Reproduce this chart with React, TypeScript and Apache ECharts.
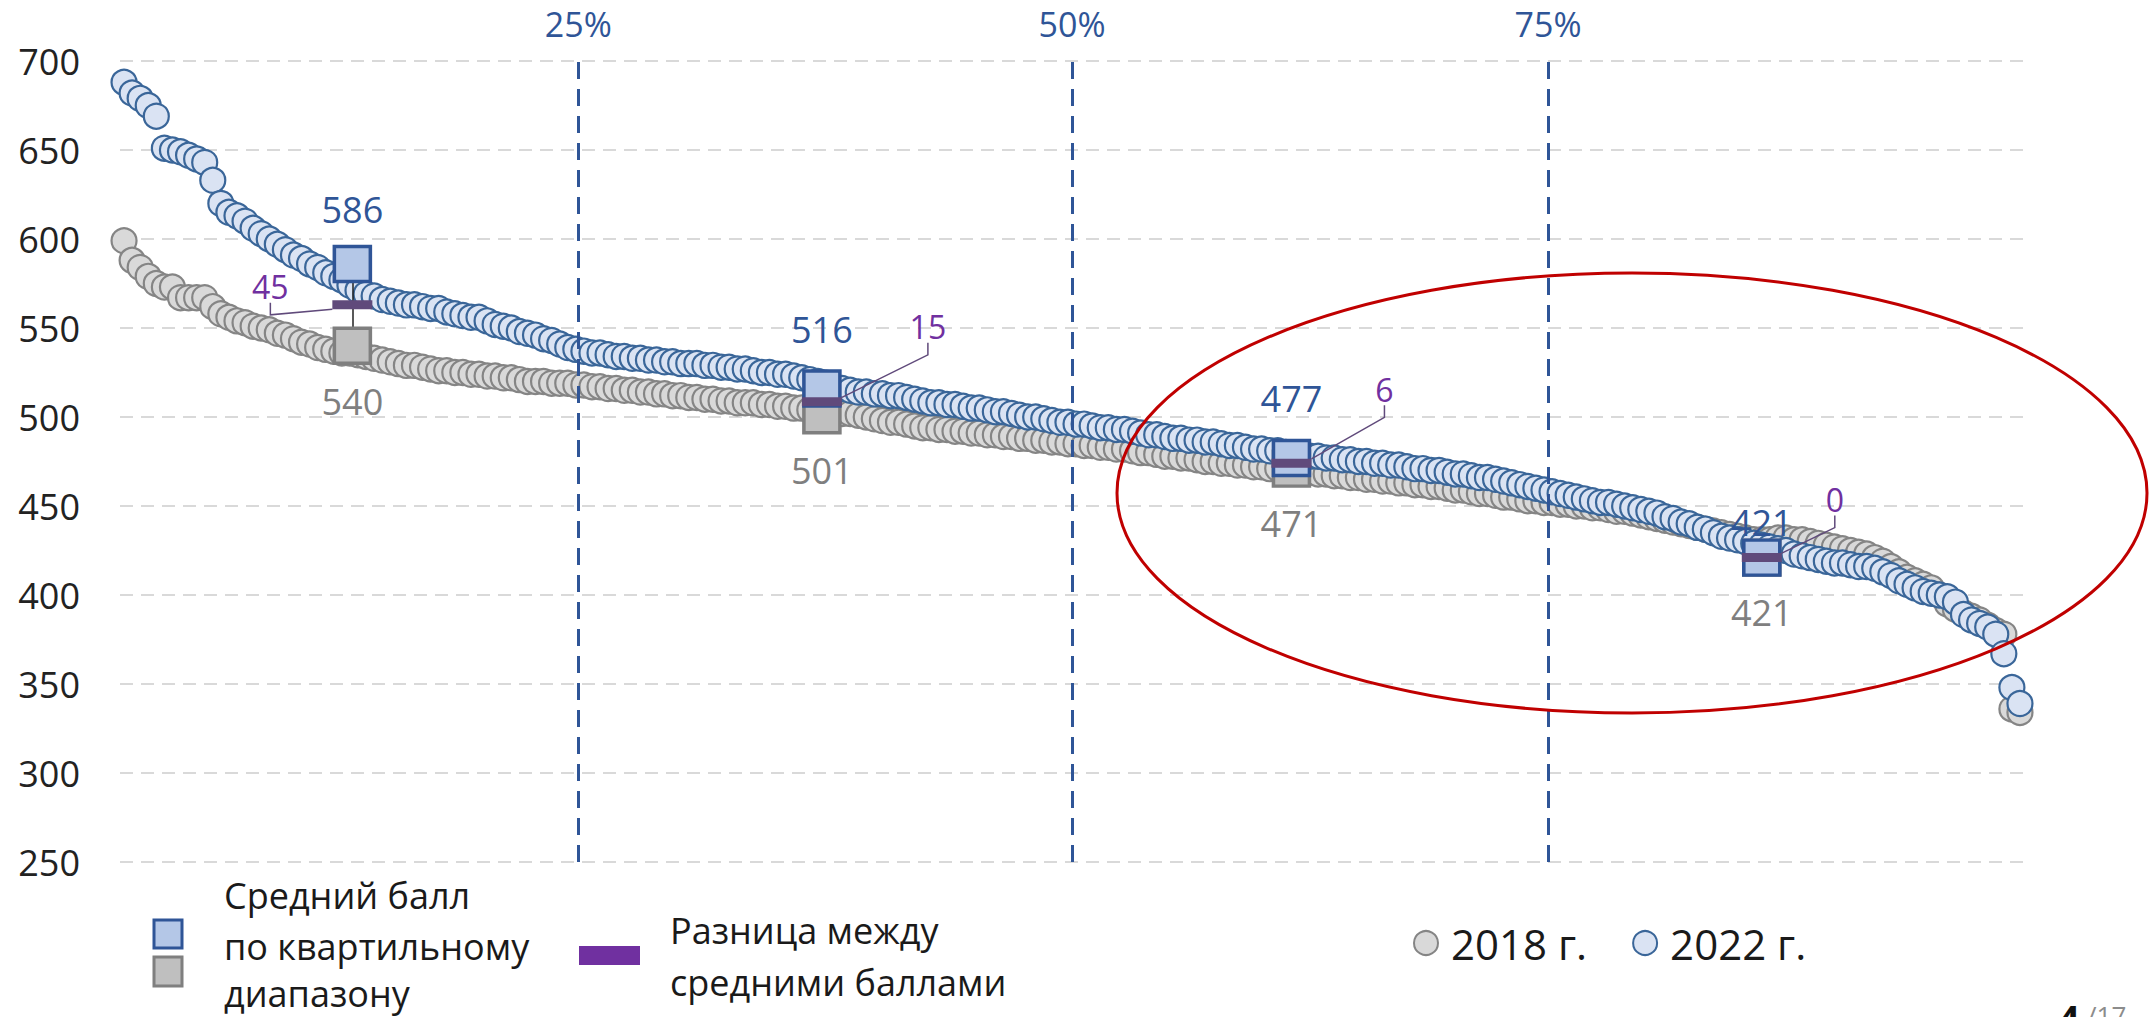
import React, { useEffect, useRef } from 'react';
import * as echarts from 'echarts';

const FONT = "'Open Sans', 'Noto Sans', 'Liberation Sans', sans-serif";

// Average score of each unit, sorted descending
const scores2022 = [
  688, 682, 679, 675, 669, 651, 650, 649, 647, 645,
  643, 633, 620, 615, 613, 610, 606, 603, 600, 597,
  594, 591, 589, 586, 584, 581, 579, 577, 574, 571,
  569, 568, 566, 565, 564, 563, 563, 562, 561, 561,
  559, 558, 557, 556, 556, 554, 552, 551, 550, 548,
  547, 546, 544, 543, 541, 539, 538, 537, 536, 536,
  535, 534, 534, 533, 533, 532, 532, 531, 531, 530,
  530, 530, 529, 529, 528, 528, 527, 527, 526, 525,
  525, 524, 524, 523, 522, 521, 520, 519, 517, 516,
  515, 514, 514, 513, 513, 512, 512, 511, 510, 509,
  508, 508, 507, 507, 506, 505, 505, 504, 503, 503,
  502, 501, 500, 500, 499, 498, 497, 497, 496, 496,
  495, 494, 494, 493, 493, 492, 491, 490, 490, 489,
  488, 488, 487, 487, 486, 486, 485, 484, 484, 483,
  482, 482, 481, 481, 480, 479, 479, 478, 478, 477,
  477, 476, 476, 475, 475, 474, 474, 473, 473, 472,
  471, 471, 470, 470, 469, 468, 468, 467, 466, 466,
  465, 464, 463, 462, 461, 460, 459, 458, 457, 456,
  455, 454, 453, 452, 452, 451, 450, 449, 448, 447,
  446, 444, 443, 441, 440, 438, 437, 435, 433, 432,
  431, 430, 429, 428, 427, 426, 425, 423, 422, 421,
  420, 419, 418, 418, 417, 416, 416, 415, 413, 411,
  408, 406, 404, 402, 401, 400, 399, 396, 389, 386,
  384, 382, 378, 367, 348, 339,
];

const scores2018 = [
  599, 588, 584, 579, 575, 573, 573, 567, 567, 567,
  567, 562, 558, 556, 554, 553, 551, 550, 549, 547,
  546, 544, 542, 541, 539, 538, 537, 536, 536, 535,
  534, 533, 532, 531, 530, 529, 529, 528, 527, 526,
  526, 525, 525, 524, 524, 523, 523, 522, 522, 521,
  520, 520, 520, 519, 519, 519, 518, 518, 517, 517,
  516, 516, 515, 515, 514, 514, 513, 513, 512, 512,
  511, 511, 510, 510, 509, 509, 508, 508, 508, 507,
  507, 506, 506, 505, 505, 504, 504, 503, 503, 502,
  502, 501, 500, 499, 498, 497, 497, 496, 495, 494,
  494, 493, 493, 492, 492, 491, 491, 490, 490, 489,
  489, 488, 488, 487, 487, 486, 486, 485, 485, 484,
  484, 483, 483, 482, 482, 481, 480, 480, 479, 478,
  478, 477, 477, 476, 475, 475, 474, 474, 473, 473,
  472, 472, 471, 471, 470, 470, 469, 469, 468, 468,
  467, 467, 466, 466, 465, 465, 464, 464, 463, 463,
  462, 462, 461, 461, 460, 459, 459, 458, 457, 457,
  456, 455, 455, 454, 453, 453, 452, 452, 451, 451,
  450, 450, 449, 449, 448, 447, 447, 446, 445, 444,
  443, 442, 441, 440, 439, 438, 437, 436, 435, 434,
  433, 432, 431, 431, 431, 432, 432, 431, 431, 430,
  429, 428, 427, 426, 425, 424, 423, 421, 419, 416,
  413, 410, 408, 406, 404, 400, 395, 392, 390, 388,
  386, 383, 380, 378, 336, 334,
];

// Quartile-range averages (centre position of each quartile, in rank units)
const quartileCentre = [28.3, 86.5, 144.7, 203];
const quartileMean2022 = [586, 516, 477, 421];
const quartileMean2018 = [540, 501, 471, 421];
const quartileDiff = [45, 15, 6, 0];

// Percentile boundary lines (rank units)
const percentileRank = [56.3, 117.5, 176.5];
const percentileLabels = ['25%', '50%', '75%'];

const seriesNames = ['2018 г.', '2022 г.'];
const yMin = 250;
const yMax = 700;
const yStep = 50;

// label offsets (pixels)
const diffLabelShift = [
  [-82, -18],
  [106, -75],
  [93, -74],
  [73, -58],
];
const blueLabelNudge = [0, -5, -5, 19];

export default function App() {
  const ref = useRef<HTMLDivElement>(null);

  useEffect(() => {
    document.body.style.margin = '0';
    if (!ref.current) return;
    const chart = echarts.init(ref.current, undefined, { renderer: 'svg' });

    const option: any = {
      animation: false,
      backgroundColor: '#ffffff',
      textStyle: { fontFamily: FONT },
      grid: { left: 120, right: 130, top: 61, bottom: 155 },
      xAxis: {
        type: 'value',
        min: -0.5,
        max: scores2022.length - 0.5,
        show: false,
      },
      yAxis: {
        type: 'value',
        min: yMin,
        max: yMax,
        interval: yStep,
        axisLine: { show: false },
        axisTick: { show: false },
        axisLabel: { fontSize: 36, color: '#222222', margin: 40, fontFamily: FONT },
        splitLine: { lineStyle: { color: '#D9D9D9', width: 2, type: [13, 8] } },
      },
      legend: {
        data: seriesNames,
        left: 1408,
        top: 917,
        icon: 'circle',
        itemWidth: 24,
        itemHeight: 24,
        itemGap: 45,
        selectedMode: false,
        textStyle: { fontSize: 42, color: '#1a1a1a', fontFamily: FONT, padding: [0, 0, 0, 8] },
      },
      series: [
        {
          name: seriesNames[0],
          type: 'scatter',
          data: scores2018.map((v, i) => [i, v]),
          symbol: 'circle',
          symbolSize: 25,
          itemStyle: { color: '#D9D9D9', borderColor: '#858585', borderWidth: 2.2, opacity: 1 },
          z: 2,
        },
        {
          name: seriesNames[1],
          type: 'scatter',
          data: scores2022.map((v, i) => [i, v]),
          symbol: 'circle',
          symbolSize: 25,
          itemStyle: { color: '#DAE3F3', borderColor: '#3A6699', borderWidth: 2.2, opacity: 1 },
          z: 3,
        },
        {
          name: 'connector',
          type: 'line',
          data: [],
          z: 4,
          silent: true,
          markLine: {
            symbol: 'none',
            silent: true,
            lineStyle: { color: '#222', width: 1.5, type: 'solid' },
            label: { show: false },
            data: quartileCentre.map((x, i) => [
              { coord: [x, quartileMean2022[i]] },
              { coord: [x, quartileMean2018[i]] },
            ]),
          },
        },
        {
          name: 'q2018',
          type: 'scatter',
          data: quartileCentre.map((x, i) => [x, quartileMean2018[i]]),
          symbol: 'rect',
          symbolSize: [36, 35],
          itemStyle: { color: '#BFBFBF', borderColor: '#7F7F7F', borderWidth: 3.5, opacity: 1 },
          label: {
            show: true,
            position: 'bottom',
            distance: 18,
            formatter: (p: any) => String(p.value[1]),
            color: '#7F7F7F',
            fontSize: 36,
            fontFamily: FONT,
          },
          z: 5,
        },
        {
          name: 'q2022',
          type: 'scatter',
          data: quartileCentre.map((x, i) => [x, quartileMean2022[i]]),
          symbol: 'rect',
          symbolSize: [36, 35],
          itemStyle: { color: '#B4C7E7', borderColor: '#2F5597', borderWidth: 3.5, opacity: 1 },
          label: {
            show: true,
            position: 'top',
            distance: 17,
            formatter: (p: any) => String(p.value[1]),
            color: '#2F5597',
            fontSize: 36,
            fontFamily: FONT,
          },
          labelLayout: (params: any) => ({ dy: blueLabelNudge[params.dataIndex] }),
          z: 6,
        },
        {
          name: 'diff',
          type: 'scatter',
          data: quartileCentre.map((x, i) => [x, (quartileMean2022[i] + quartileMean2018[i]) / 2]),
          symbol: 'rect',
          symbolSize: [40, 9],
          itemStyle: { color: '#604A7B', opacity: 1 },
          label: {
            show: true,
            position: 'inside',
            formatter: (p: any) => String(quartileDiff[p.dataIndex]),
            color: '#7030A0',
            fontSize: 32,
            fontFamily: FONT,
          },
          labelLayout: (params: any) => ({
            dx: diffLabelShift[params.dataIndex][0],
            dy: diffLabelShift[params.dataIndex][1],
          }),
          labelLine: {
            show: true,
            length2: 12,
            lineStyle: { color: '#604A7B', width: 1.5 },
          },
          z: 7,
        },
        {
          name: 'percentiles',
          type: 'line',
          data: [],
          z: 8,
          silent: true,
          markLine: {
            symbol: 'none',
            silent: true,
            lineStyle: { color: '#2F5597', width: 3, type: [17, 10] },
            label: {
              show: true,
              position: 'end',
              formatter: '{b}',
              color: '#2F5597',
              fontSize: 34,
              fontFamily: FONT,
              distance: 20,
            },
            data: percentileRank.map((x, i) => ({ xAxis: x, name: percentileLabels[i] })),
          },
        },
      ],
      graphic: [
        {
          type: 'ellipse',
          silent: true,
          z: 100,
          shape: { cx: 1632, cy: 493, rx: 515, ry: 220 },
          style: { fill: 'none', stroke: '#C00000', lineWidth: 3 },
        },
        {
          type: 'rect',
          silent: true,
          shape: { x: 154, y: 920, width: 28, height: 28 },
          style: { fill: '#B4C7E7', stroke: '#2F5597', lineWidth: 3 },
        },
        {
          type: 'rect',
          silent: true,
          shape: { x: 154, y: 957, width: 28, height: 29 },
          style: { fill: '#BFBFBF', stroke: '#7F7F7F', lineWidth: 3 },
        },
        {
          type: 'rect',
          silent: true,
          shape: { x: 579, y: 946, width: 61, height: 19 },
          style: { fill: '#7030A0' },
        },
        {
          type: 'text',
          silent: true,
          x: 224,
          y: 895,
          style: { text: 'Средний балл', fontSize: 36, fontFamily: FONT, fill: '#1a1a1a', verticalAlign: 'middle' },
        },
        {
          type: 'text',
          silent: true,
          x: 224,
          y: 946,
          style: { text: 'по квартильному', fontSize: 36, fontFamily: FONT, fill: '#1a1a1a', verticalAlign: 'middle' },
        },
        {
          type: 'text',
          silent: true,
          x: 224,
          y: 993,
          style: { text: 'диапазону', fontSize: 36, fontFamily: FONT, fill: '#1a1a1a', verticalAlign: 'middle' },
        },
        {
          type: 'text',
          silent: true,
          x: 670,
          y: 930,
          style: { text: 'Разница между', fontSize: 36, fontFamily: FONT, fill: '#1a1a1a', verticalAlign: 'middle' },
        },
        {
          type: 'text',
          silent: true,
          x: 670,
          y: 982,
          style: { text: 'средними баллами', fontSize: 36, fontFamily: FONT, fill: '#1a1a1a', verticalAlign: 'middle' },
        },
        {
          type: 'text',
          silent: true,
          x: 2058,
          y: 1018,
          style: { text: '4', fontSize: 38, fontWeight: 'bold', fontFamily: FONT, fill: '#111', verticalAlign: 'middle' },
        },
        {
          type: 'text',
          silent: true,
          x: 2087,
          y: 1015,
          style: { text: '/17', fontSize: 26, fontFamily: FONT, fill: '#8C8C8C', verticalAlign: 'middle' },
        },
      ],
    };

    chart.setOption(option);
    return () => {
      chart.dispose();
    };
  }, []);

  return <div ref={ref} style={{ width: 2154, height: 1017 }} />;
}
